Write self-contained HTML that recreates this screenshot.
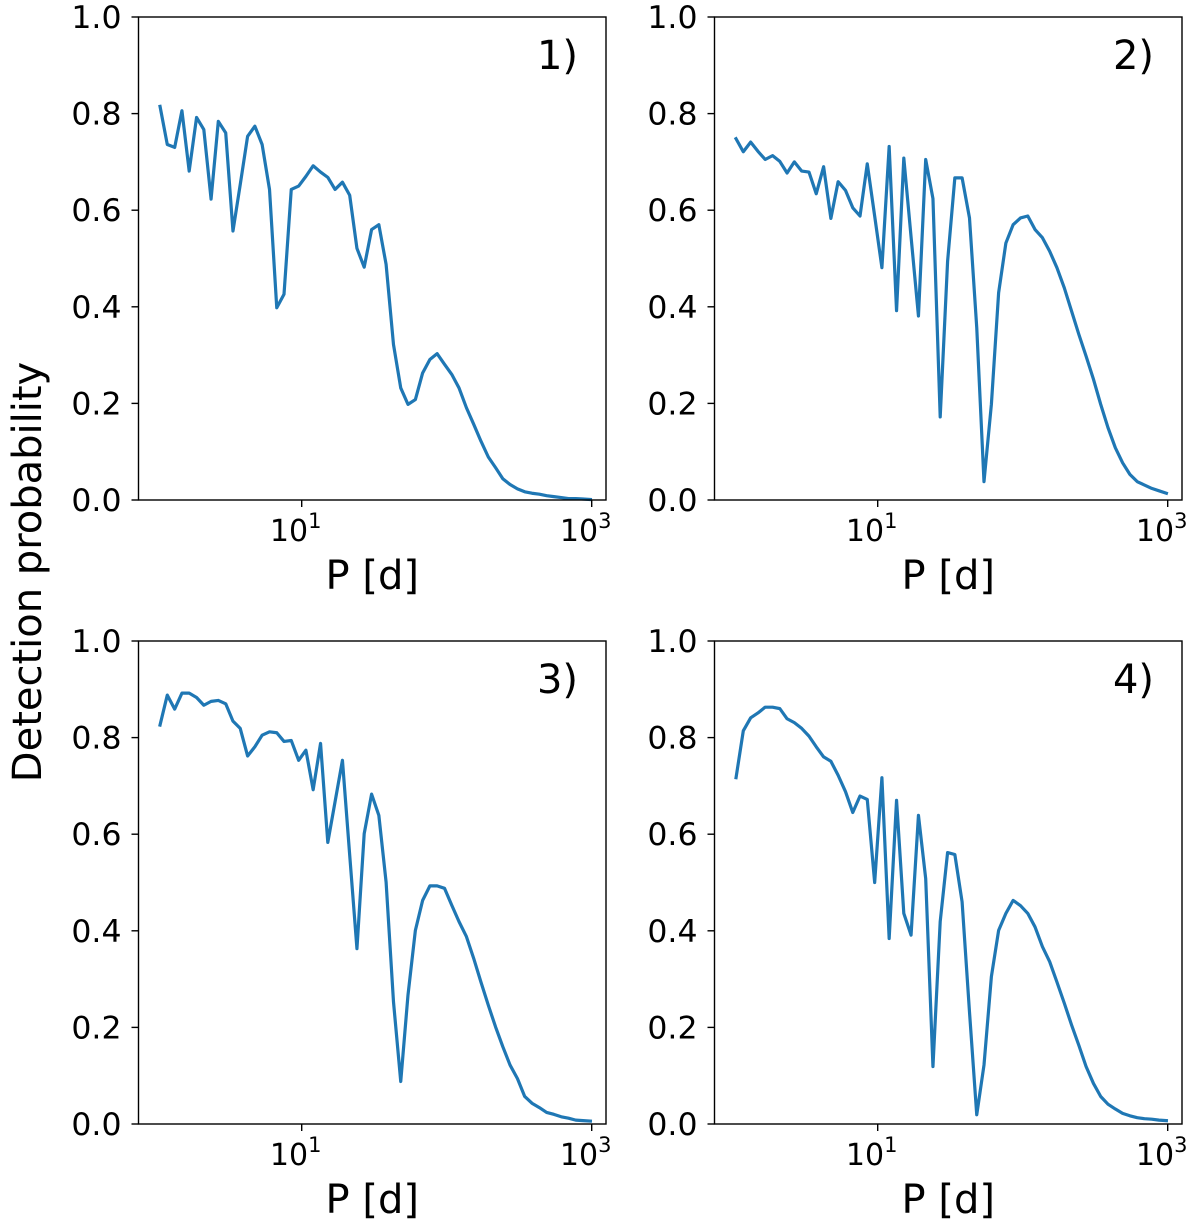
<!DOCTYPE html>
<html><head><meta charset="utf-8">
<style>
html,body{margin:0;padding:0;background:#fff;}
svg{display:block;}
text{font-family:"DejaVu Sans","Liberation Sans",sans-serif;fill:#000;}
</style></head>
<body>
<svg id="fig" width="1200" height="1224" viewBox="0 0 1200 1224" xmlns="http://www.w3.org/2000/svg">
<text x="0" y="0" font-size="40" text-anchor="middle" transform="translate(41,572) rotate(-90)">Detection probability</text>
</svg>
<script>
const logP = [0.023,0.073,0.124,0.174,0.224,0.275,0.325,0.375,0.425,0.476,0.526,0.576,0.627,0.677,0.727,0.778,0.828,0.878,0.928,0.979,1.029,1.079,1.130,1.180,1.230,1.281,1.331,1.381,1.431,1.482,1.532,1.582,1.633,1.683,1.733,1.784,1.834,1.884,1.934,1.985,2.035,2.085,2.136,2.186,2.236,2.287,2.337,2.387,2.437,2.488,2.538,2.588,2.639,2.689,2.739,2.790,2.840,2.890,2.940,2.991];
const prob1 = [0.815,0.736,0.730,0.806,0.681,0.792,0.767,0.623,0.784,0.760,0.557,0.653,0.753,0.774,0.736,0.643,0.398,0.426,0.643,0.650,0.670,0.692,0.679,0.668,0.643,0.658,0.631,0.521,0.482,0.560,0.570,0.488,0.322,0.232,0.198,0.208,0.263,0.291,0.303,0.281,0.260,0.232,0.191,0.157,0.122,0.089,0.067,0.044,0.032,0.023,0.017,0.014,0.012,0.009,0.007,0.005,0.003,0.003,0.002,0.001];
const prob2 = [0.748,0.721,0.741,0.722,0.705,0.713,0.701,0.677,0.700,0.681,0.679,0.634,0.690,0.583,0.659,0.641,0.605,0.588,0.696,0.588,0.481,0.732,0.392,0.708,0.545,0.381,0.705,0.624,0.172,0.494,0.667,0.667,0.584,0.357,0.038,0.198,0.429,0.532,0.570,0.584,0.588,0.560,0.543,0.515,0.481,0.439,0.391,0.343,0.298,0.250,0.198,0.150,0.108,0.077,0.053,0.038,0.031,0.024,0.019,0.014];
const prob3 = [0.826,0.888,0.859,0.892,0.892,0.883,0.867,0.875,0.877,0.870,0.834,0.819,0.762,0.781,0.805,0.812,0.810,0.792,0.794,0.753,0.774,0.692,0.788,0.583,0.667,0.753,0.557,0.363,0.601,0.683,0.639,0.501,0.253,0.088,0.267,0.401,0.463,0.493,0.493,0.488,0.453,0.419,0.388,0.343,0.294,0.246,0.201,0.160,0.122,0.094,0.057,0.043,0.034,0.024,0.020,0.015,0.012,0.008,0.007,0.006];
const prob4 = [0.717,0.814,0.841,0.851,0.863,0.863,0.860,0.839,0.831,0.819,0.803,0.781,0.760,0.751,0.722,0.688,0.645,0.679,0.672,0.500,0.717,0.384,0.670,0.436,0.391,0.639,0.508,0.119,0.419,0.562,0.558,0.460,0.232,0.019,0.122,0.305,0.401,0.436,0.463,0.452,0.436,0.408,0.367,0.336,0.294,0.250,0.205,0.163,0.119,0.084,0.057,0.041,0.031,0.022,0.017,0.013,0.011,0.010,0.008,0.007];
const yTicks = [0.0,0.2,0.4,0.6,0.8,1.0];
const yTickLabels = ["0.0","0.2","0.4","0.6","0.8","1.0"];
const xTickExps = [1,3];
const panelLabels = ["1)","2)","3)","4)"];

const NS="http://www.w3.org/2000/svg";
const svg=document.getElementById('fig');
function mk(tag,attrs,parent){const e=document.createElementNS(NS,tag);for(const k in attrs)e.setAttribute(k,attrs[k]);(parent||svg).appendChild(e);return e;}

const series=[prob1,prob2,prob3,prob4];
const offsets=[[0,0],[576,0],[0,624],[576,624]];
series.forEach((vals,pi)=>{
  const ox=offsets[pi][0], oy=offsets[pi][1];
  const L=138.5+ox, R=606+ox, T=17+oy, B=500+oy;
  const xs=v=>301.7+ox+(v-1)*145;
  const ys=v=>B-v*(B-T);
  const g=mk('g',{});
  
  
  let d='';
  vals.forEach((v,i)=>{d+=(i?'L':'M')+xs(logP[i]).toFixed(2)+','+ys(v).toFixed(2);});
  const line=mk('path',{d:d,fill:'none',stroke:'#1f77b4','stroke-width':3.2,'stroke-linejoin':'round','stroke-linecap':'square'},g);
  
  
  const fr=mk('rect',{x:L,y:T,width:R-L,height:B-T,fill:'none',stroke:'#000','stroke-width':1.4},g);
  
  
  yTicks.forEach((t,i)=>{
    const y=ys(t);
    mk('line',{x1:L-7,x2:L,y1:y,y2:y,stroke:'#000','stroke-width':1.4},g);
    const tx=mk('text',{x:L-17,y:y+11,'font-size':31.5,'text-anchor':'end'},g);
    
    
    tx.textContent=yTickLabels[i];
  });
  xTickExps.forEach(e=>{
    const x=xs(e);
    mk('line',{x1:x,x2:x,y1:B,y2:B+7,stroke:'#000','stroke-width':1.4},g);
    const tx=mk('text',{x:x-6,y:B+41,'font-size':30,'text-anchor':'middle'},g);
    
    
    tx.textContent='10';
    const sp=mk('tspan',{dy:-13,'font-size':21},tx);
    sp.textContent=String(e);
  });
  const xl=mk('text',{x:(L+R)/2,y:B+89,'font-size':40,'text-anchor':'middle'},g);
  
  
  xl.textContent='P [d]';
  const pl=mk('text',{x:R-28,y:T+52,'font-size':40,'text-anchor':'end'},g);
  
  
  pl.textContent=panelLabels[pi];
});
</script>
</body></html>
